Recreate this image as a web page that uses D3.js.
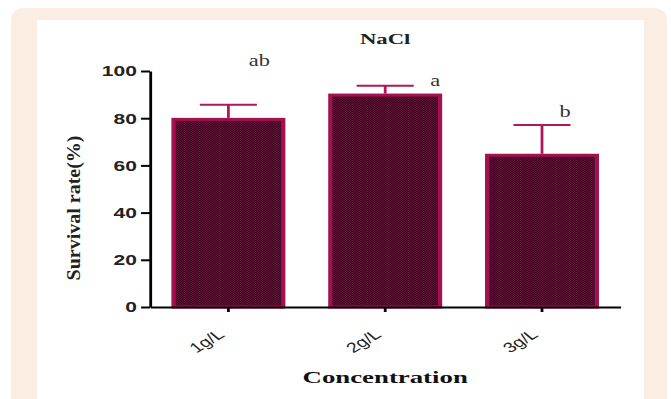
<!DOCTYPE html>
<html>
<head>
<meta charset="utf-8">
<script src="https://cdn.jsdelivr.net/npm/d3@7"></script>
<style>
  body { margin: 0; background: #fff; }
</style>
</head>
<body>
<div id="chart"></div>
<script>
// Chart data
const categories = ["1g/L", "2g/L", "3g/L"];
const survival = [79.5, 89.8, 64.3];      // mean survival rate (%)
const errors = [6.2, 3.9, 12.8];          // upper error bar
const groupLetters = ["ab", "a", "b"];
const letterLevels = [102, 93.6, 80.5];   // y-level (in %) where each letter sits
const yTicks = [0, 20, 40, 60, 80, 100];

// Layout
const WIDTH = 671, HEIGHT = 399;
const SX = 1.4;               // the source figure is stretched horizontally
const PLOT_LEFT = 150;
const INNER_W = 336;          // logical (unstretched) plot width
const Y_TOP = 71, Y_BOTTOM = 307;
const letterShift = [31, 50, 23]; // output px to the right of bar centre

const BAR_STROKE = "#a3124e";
const ERR_STROKE = "#b0165a";

const svg = d3.select("#chart")
    .append("svg")
    .attr("width", WIDTH)
    .attr("height", HEIGHT);

// Page frame
svg.append("rect")
    .attr("x", 11).attr("y", 8)
    .attr("width", 656).attr("height", 420)
    .attr("rx", 12)
    .attr("fill", "#fcede3");
svg.append("rect")
    .attr("x", 37).attr("y", 20)
    .attr("width", 607).attr("height", 400)
    .attr("fill", "#ffffff");

// Dotted fill of the bars
const pattern = svg.append("defs")
    .append("pattern")
    .attr("id", "barFill")
    .attr("patternUnits", "userSpaceOnUse")
    .attr("width", 2).attr("height", 2);
pattern.append("rect").attr("width", 2).attr("height", 2).attr("fill", "#320019");
pattern.append("rect").attr("width", 1).attr("height", 1).attr("fill", "#6e1540");
pattern.append("rect").attr("x", 1).attr("y", 1).attr("width", 1).attr("height", 1).attr("fill", "#6e1540");

const g = svg.append("g")
    .attr("transform", `translate(${PLOT_LEFT},0) scale(${SX},1)`);

const x = d3.scaleBand()
    .domain(categories)
    .range([0, INNER_W])
    .paddingInner(0.3)
    .paddingOuter(0.15);

const y = d3.scaleLinear()
    .domain([0, 100])
    .range([Y_BOTTOM, Y_TOP]);

const rows = categories.map((c, i) => ({
    cat: c, value: survival[i], err: errors[i],
    letter: groupLetters[i], level: letterLevels[i], shift: letterShift[i]
}));

// Bars
g.selectAll("rect.bar")
    .data(rows)
    .enter()
    .append("rect")
    .attr("class", "bar")
    .attr("x", d => x(d.cat))
    .attr("y", d => y(d.value))
    .attr("width", x.bandwidth())
    .attr("height", d => y(0) - y(d.value))
    .attr("fill", "url(#barFill)")
    .attr("stroke", BAR_STROKE)
    .attr("stroke-width", 3);

// Error bars (upper only)
const cx = d => x(d.cat) + x.bandwidth() / 2;
const capHalf = x.bandwidth() * 0.26;
g.selectAll("line.errStem")
    .data(rows)
    .enter()
    .append("line")
    .attr("class", "errStem")
    .attr("x1", cx).attr("x2", cx)
    .attr("y1", d => y(d.value) - 1.5)
    .attr("y2", d => y(d.value + d.err))
    .attr("stroke", ERR_STROKE)
    .attr("stroke-width", 2);
g.selectAll("line.errCap")
    .data(rows)
    .enter()
    .append("line")
    .attr("class", "errCap")
    .attr("x1", d => cx(d) - capHalf)
    .attr("x2", d => cx(d) + capHalf)
    .attr("y1", d => y(d.value + d.err))
    .attr("y2", d => y(d.value + d.err))
    .attr("stroke", ERR_STROKE)
    .attr("stroke-width", 2);

// Significance letters
g.selectAll("text.letter")
    .data(rows)
    .enter()
    .append("text")
    .attr("class", "letter")
    .attr("x", d => cx(d) + d.shift / SX)
    .attr("y", d => y(d.level))
    .attr("text-anchor", "middle")
    .attr("font-family", "Liberation Serif, serif")
    .attr("font-size", 16)
    .attr("fill", "#333")
    .text(d => d.letter);

// Y axis
const yAxis = g.append("g")
    .call(d3.axisLeft(y).tickValues(yTicks).tickSize(6.4).tickSizeOuter(0).tickPadding(3));
yAxis.select(".domain").attr("stroke", "#000").attr("stroke-width", 2);
yAxis.selectAll(".tick line").attr("stroke", "#000").attr("stroke-width", 2);
yAxis.selectAll(".tick text")
    .attr("font-family", "Liberation Sans, Arial, sans-serif")
    .attr("font-weight", "bold")
    .attr("font-size", 15)
    .attr("fill", "#222");

// X axis
const xAxis = g.append("g")
    .attr("transform", `translate(0,${Y_BOTTOM})`)
    .call(d3.axisBottom(x).tickSize(5).tickSizeOuter(0));
xAxis.select(".domain").attr("stroke", "#000").attr("stroke-width", 2);
xAxis.selectAll(".tick line").attr("stroke", "#000").attr("stroke-width", 2);
xAxis.selectAll(".tick text")
    .attr("x", 0).attr("y", 0).attr("dy", 0)
    .attr("transform", "translate(-2,29) rotate(-40)")
    .attr("text-anchor", "end")
    .attr("font-family", "Liberation Sans, Arial, sans-serif")
    .attr("font-size", 14)
    .attr("fill", "#222");

// Titles
g.append("text")
    .attr("x", INNER_W / 2)
    .attr("y", 44)
    .attr("text-anchor", "middle")
    .attr("font-family", "Liberation Serif, serif")
    .attr("font-weight", "bold")
    .attr("font-size", 14)
    .attr("textLength", 36)
    .attr("lengthAdjust", "spacingAndGlyphs")
    .attr("fill", "#222")
    .text("NaCl");

g.append("text")
    .attr("x", INNER_W / 2)
    .attr("y", 383)
    .attr("text-anchor", "middle")
    .attr("font-family", "Liberation Serif, serif")
    .attr("font-weight", "bold")
    .attr("font-size", 16)
    .attr("textLength", 118)
    .attr("lengthAdjust", "spacingAndGlyphs")
    .attr("fill", "#111")
    .text("Concentration");

g.append("text")
    .attr("transform", `translate(-50,${(Y_TOP + Y_BOTTOM) / 2 + 19}) rotate(-90)`)
    .attr("text-anchor", "middle")
    .attr("font-family", "Liberation Serif, serif")
    .attr("font-weight", "bold")
    .attr("font-size", 14)
    .attr("textLength", 145)
    .attr("lengthAdjust", "spacingAndGlyphs")
    .attr("fill", "#222")
    .text("Survival rate(%)");
</script>
</body>
</html>
